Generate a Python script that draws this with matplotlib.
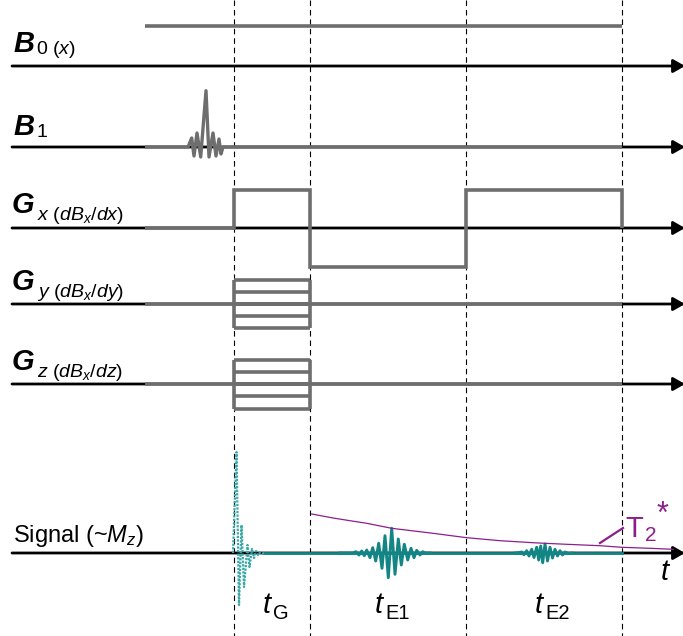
"""MRI pulse sequence diagram (B0, B1, gradients and signal)."""

import matplotlib
matplotlib.use("Agg")
import matplotlib.pyplot as plt

plt.rcParams['font.family'] = ['Liberation Sans', 'DejaVu Sans']
plt.rcParams['mathtext.fontset'] = 'custom'
plt.rcParams['mathtext.rm'] = 'Liberation Sans'
plt.rcParams['mathtext.it'] = 'Liberation Sans:italic'

# baseline heights of each row (image pixels, y grows downwards)
row_names = ["B0", "B1", "Gx", "Gy", "Gz", "Signal"]
row_base = [66, 147, 228, 304, 384, 553]

# timing marks (dashed verticals)
t_marks = [234, 310, 466, 622]
seq_start = 145

# B0 level and B1 pulse vertices
b0_level = 26
b1_x = [145, 188, 191.7, 194, 197, 200.7, 206, 209, 213, 216, 219, 221, 223, 622]
b1_y = [147, 147, 138, 156, 133, 157, 90.7, 157, 133, 156, 139, 154, 147, 147]

# Gx readout waveform
gx_x = [145, 234, 234, 310, 310, 466, 466, 622, 622]
gx_y = [228, 228, 190, 190, 267, 267, 190, 190, 228]

# phase encode steps (Gy, Gz)
gy_levels = [280, 292, 304, 316, 328]
gz_levels = [360, 372, 384, 396, 409]

# signal: FID and two echoes
fid_x = [233, 236.5, 239, 241.5, 244, 247.5, 249.5, 252, 254, 256, 258, 260, 262, 264]
fid_y = [553, 452, 605, 525, 587, 545, 567, 549, 558, 551, 555, 552.5, 553.5, 553]
echo1_x = [340, 353, 356, 359, 361.7, 364.3, 366.7, 370, 372.7, 375.7, 378.7, 382, 385,
           388.3, 391.7, 395, 398.3, 401.3, 404.3, 407.7, 411, 414, 416.7, 420, 422.7, 425, 430]
echo1_y = [553, 553, 551.7, 555, 551, 555.7, 550, 557.7, 547.7, 561, 543.3, 568.3, 535.7,
           577.7, 528.3, 574.3, 539, 565, 544.3, 560, 548.3, 557.7, 550.3, 555, 551.7, 553, 553]
echo2_x = [515, 519, 521.7, 524, 526.7, 529, 531.7, 534, 536.7, 538.7, 540.7, 542.7, 545,
           547.5, 550, 552.5, 555, 557.5, 560, 562.5, 565, 568, 572]
echo2_y = [553, 552.5, 552, 554.7, 550.7, 556, 549.3, 557.5, 547.3, 560, 546, 562.7, 544,
           561, 547.3, 558, 549.3, 556, 550.7, 555, 552, 553.5, 553]

# T2* decay envelope
t2_x = [311.7, 333, 350, 366.7, 391.7, 433, 466.7, 500, 533, 545, 566.7, 600, 621.7, 650, 673.3]
t2_y = [514, 518, 520.7, 523.3, 528.3, 533.3, 537.7, 540.7, 542.7, 543.3, 544.3, 545.7, 547.3, 548.3, 549.3]

grey = "#6e6e6e"
teal = "#138585"
teal_light = "#3aa8a8"
purple = "#8c1f8c"

fig = plt.figure(figsize=(6.83, 6.36), dpi=100)
ax = fig.add_axes([0, 0, 1, 1])
ax.set_xlim(0, 683)
ax.set_ylim(636, 0)
ax.axis("off")

# dashed timing lines
for xm in t_marks:
    ax.plot([xm, xm], [0, 636], color="black", lw=0.8, ls=(0, (5, 3.5)), zorder=1)

# black time axes with arrows
for yb in row_base:
    ax.annotate("", xy=(685, yb), xytext=(12, yb), annotation_clip=False,
                arrowprops=dict(arrowstyle="-|>,head_length=0.7,head_width=0.4",
                                color="black", lw=2, shrinkA=0, shrinkB=0), zorder=2)

kw = dict(color=grey, lw=2.6, solid_joinstyle="miter", solid_capstyle="butt", zorder=3)
ax.plot([seq_start, t_marks[-1]], [b0_level, b0_level], **kw)
ax.plot(b1_x, b1_y, **dict(kw, lw=2.4, solid_joinstyle="round"))
ax.plot(gx_x, gx_y, **kw)

for levels, base in [(gy_levels, row_base[3]), (gz_levels, row_base[4])]:
    ax.plot([seq_start, t_marks[-1]], [base, base], **kw)
    for lv in levels:
        ax.plot([t_marks[0], t_marks[1]], [lv, lv], **kw)
    ax.plot([t_marks[0], t_marks[0]], [levels[0], levels[-1]], **kw)
    ax.plot([t_marks[1], t_marks[1]], [levels[0], levels[-1]], **kw)

# signal
ax.plot([fid_x[-1], t_marks[-1]], [row_base[5], row_base[5]], color=teal, lw=2, zorder=3)
ax.plot(fid_x, fid_y, color=teal_light, lw=1.6, ls=(0, (1, 0.6)), zorder=4)
ax.plot(echo1_x, echo1_y, color=teal, lw=2.1, zorder=4)
ax.plot(echo2_x, echo2_y, color=teal, lw=2.1, zorder=4)
ax.plot(t2_x, t2_y, color=purple, lw=0.9, zorder=5)
ax.plot([600, 623], [543, 528], color=purple, lw=1.6, zorder=5)

# row labels
big = dict(fontsize=21, fontweight="bold", fontstyle="italic", va="baseline")
sub = dict(fontsize=14, va="baseline")
ax.text(13, 52, "B", **big)
ax.text(36, 54, "0 ($x$)", **sub)
ax.text(13, 135, "B", **big)
ax.text(36, 137, "1", **sub)
ax.text(12, 213, "G", **big)
ax.text(37, 220, "$x$ ($dB_x/dx$)", **sub)
ax.text(12, 290, "G", **big)
ax.text(37, 297, "$y$ ($dB_x/dy$)", **sub)
ax.text(12, 370, "G", **big)
ax.text(37, 377, "$z$ ($dB_x/dz$)", **sub)
ax.text(13, 542, "Signal (~$M_z$)", fontsize=17, va="baseline")

# time labels
for xt, lab in [(263, "G"), (375, "E1"), (535, "E2")]:
    ax.text(xt, 613, "t", fontsize=21, fontstyle="italic", va="baseline")
    ax.text(xt + 10, 619, lab, fontsize=14.5, va="baseline")
ax.text(661, 580, "t", fontsize=21, fontstyle="italic", va="baseline")

ax.text(625, 537, "T", fontsize=21, color=purple, va="baseline")
ax.text(645, 541, "2", fontsize=15, color=purple, va="baseline")
ax.text(657, 523, "*", fontsize=22, color=purple, va="baseline")

fig.savefig("out.png", dpi=100)
